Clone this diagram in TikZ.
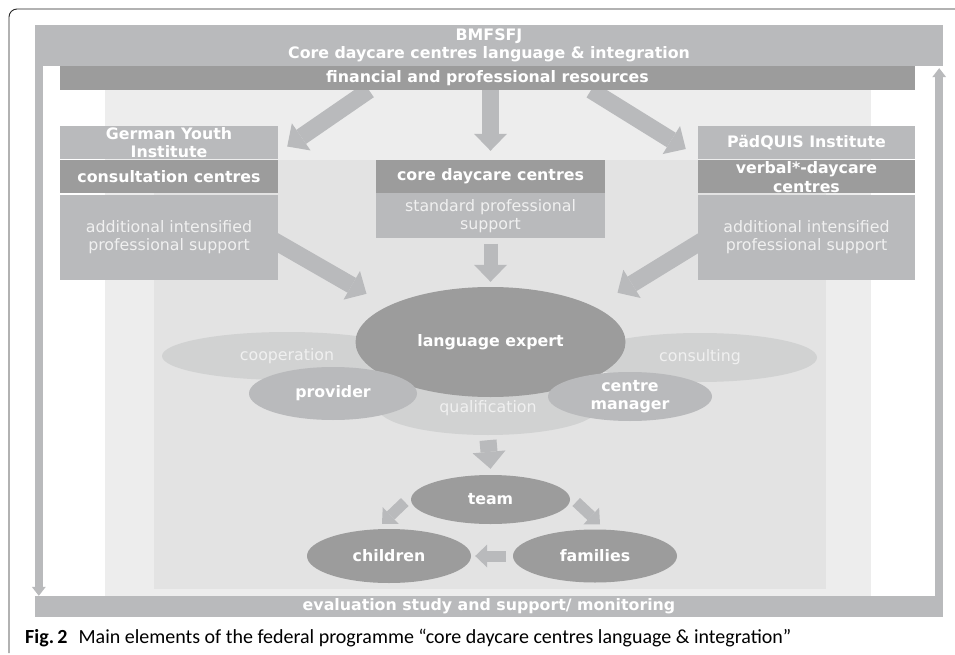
\documentclass[tikz,border=0pt]{standalone}
\usepackage{fontspec}
\setmainfont{DejaVu Sans}
\newfontfamily\capfont{Carlito}
\usetikzlibrary{positioning,shapes.geometric,arrows.meta}
\definecolor{bandgray}{HTML}{B9BABC}
\definecolor{headgray}{HTML}{9C9C9C}
\definecolor{palegray}{HTML}{D1D2D2}
\definecolor{bgouter}{HTML}{EDEDED}
\definecolor{bginner}{HTML}{E3E3E3}
\definecolor{softwhite}{HTML}{F0F0F0}
\pgfdeclarelayer{back}
\pgfdeclarelayer{arrowlayer}
\pgfsetlayers{back,arrowlayer,main}

\begin{document}
\begin{tikzpicture}[x=1pt,y=-1pt,
  boldtxt/.style={font=\fontsize{15.8}{18.5}\selectfont\bfseries,text=white},
  plaintxt/.style={font=\fontsize{15.8}{18.5}\selectfont,text=softwhite},
  band/.style={fill=bandgray,boldtxt,inner sep=0pt,align=center},
  headbox/.style={fill=headgray,boldtxt,inner sep=0pt,align=center,minimum height=33pt},
  infobox/.style={fill=bandgray,plaintxt,inner sep=0pt,align=center},
  oval/.style={ellipse,inner sep=0pt,align=center},
  darkoval/.style={oval,fill=headgray,boldtxt},
  midoval/.style={oval,fill=bandgray,boldtxt},
  paleoval/.style={oval,fill=palegray,plaintxt},
  fatarrow/.style={draw=bandgray,line width=17pt,-{Triangle[width=33pt,length=17pt,line width=0pt]}},
  smallarrow/.style={draw=bandgray,line width=11pt,-{Triangle[width=23pt,length=12pt,line width=0pt]}},
  sidearrow/.style={draw=bandgray,line width=8pt,-{Triangle[width=14pt,length=9pt,line width=0pt]}}]
\useasboundingbox (0,0) rectangle (955,655);

% frame
\draw[line width=0.9pt,black!85,rounded corners=8pt] (9,653) -- (9,9) -- (955,9);

% shaded areas
\begin{pgfonlayer}{back}
  \fill[bgouter] (105,90) rectangle (871,596);
  \fill[bginner] (154,160) rectangle (826,589);
\end{pgfonlayer}

% bands
\node[band,minimum width=908pt,minimum height=41pt] (bmfsfj) at (489,45.5)
  {BMFSFJ\\Core daycare centres language \& integration};
\node[band,fill=headgray,minimum width=855pt,minimum height=24pt] (fin) at (487.5,78)
  {financial and professional resources};
\node[band,minimum width=908pt,minimum height=21pt] (eval) at (489,606.5)
  {evaluation study and support/ monitoring};

% left column
\node[band,minimum width=218pt,minimum height=33pt] (gyi) at (169,142.5) {German Youth\\Institute};
\node[headbox,minimum width=218pt,below=1pt of gyi] (consult) {consultation centres};
\node[infobox,minimum width=218pt,minimum height=85pt,below=1pt of consult] (addl)
  {additional intensified\\professional support};

% middle column
\node[headbox,minimum width=229pt] (core) at (490.5,176.5) {core daycare centres};
\node[infobox,minimum width=229pt,minimum height=45pt,below=0pt of core] (std)
  {standard professional\\support};

% right column
\node[band,minimum width=217pt,minimum height=33pt] (pq) at (806.5,142.5) {PädQUIS Institute};
\node[headbox,minimum width=217pt,below=1pt of pq] (verbal) {verbal*-daycare\\centres};
\node[infobox,minimum width=217pt,minimum height=85pt,below=1pt of verbal] (addr)
  {additional intensified\\professional support};

% ovals
\node[paleoval,minimum width=250pt,minimum height=48pt] (coop) at (287,356) {cooperation};
\node[paleoval,minimum width=234pt,minimum height=49pt] (consulting) at (700,357.5) {consulting};
\node[paleoval,minimum width=220pt,minimum height=54pt] (qual) at (488,408) {qualification};
\node[darkoval,minimum width=270pt,minimum height=110pt] (expert) at (490.5,342) {language expert};
\node[midoval,minimum width=168pt,minimum height=53pt] (provider) at (333,393.5) {provider};
\node[midoval,minimum width=164pt,minimum height=49pt] (manager) at (630,396.5) {centre\\manager};
\node[darkoval,minimum width=159pt,minimum height=49pt] (team) at (490.5,499.5) {team};
\node[darkoval,minimum width=164pt,minimum height=54pt] (children) at (389,556) {children};
\node[darkoval,minimum width=164pt,minimum height=53pt] (families) at (595,556) {families};

% arrows
\begin{pgfonlayer}{arrowlayer}
  \draw[fatarrow] ([xshift=-118.5pt]fin.south) -- ([xshift=9pt,yshift=-4pt]gyi.east);
  \draw[fatarrow] ([xshift=3pt]fin.south) -- ([yshift=9pt]core.north);
  \draw[fatarrow] ([xshift=103.5pt]fin.south) -- ([xshift=-12pt,yshift=-6.5pt]pq.west);
  \draw[fatarrow] ([xshift=-10pt]addl.east) -- ([xshift=-124pt,yshift=-7pt]expert.north);
  \draw[fatarrow,line width=14pt] ([yshift=-5pt]std.south) -- ([yshift=5pt]expert.north);
  \draw[fatarrow] ([xshift=10pt]addr.west) -- ([xshift=127pt,yshift=-6pt]expert.north);
  \draw[fatarrow] ([yshift=-5pt]qual.south) -- ([yshift=6pt]team.north);
  \draw[smallarrow] ([xshift=-6pt,yshift=-2.5pt]team.west) -- ([xshift=-7pt,yshift=5pt]children.north);
  \draw[smallarrow] ([xshift=6pt,yshift=-2.5pt]team.east) -- ([xshift=5pt,yshift=5pt]families.north);
  \draw[smallarrow] ([xshift=-7pt]families.west) -- ([xshift=4pt]children.east);
  \draw[sidearrow] ([xshift=4pt]bmfsfj.south west) -- ([xshift=4pt]eval.north west);
  \draw[sidearrow] ([xshift=-4pt]eval.north east) -- ([xshift=-4pt,yshift=-2pt]bmfsfj.south east);
\end{pgfonlayer}

% caption
\node[anchor=base west,inner sep=0pt] (caption) at (25,643)
  {\capfont\fontsize{20}{20}\selectfont\textbf{Fig.\,2}\hspace{0.55em}Main elements of the federal programme “core daycare centres language \& integration”};
\end{tikzpicture}
\end{document}
